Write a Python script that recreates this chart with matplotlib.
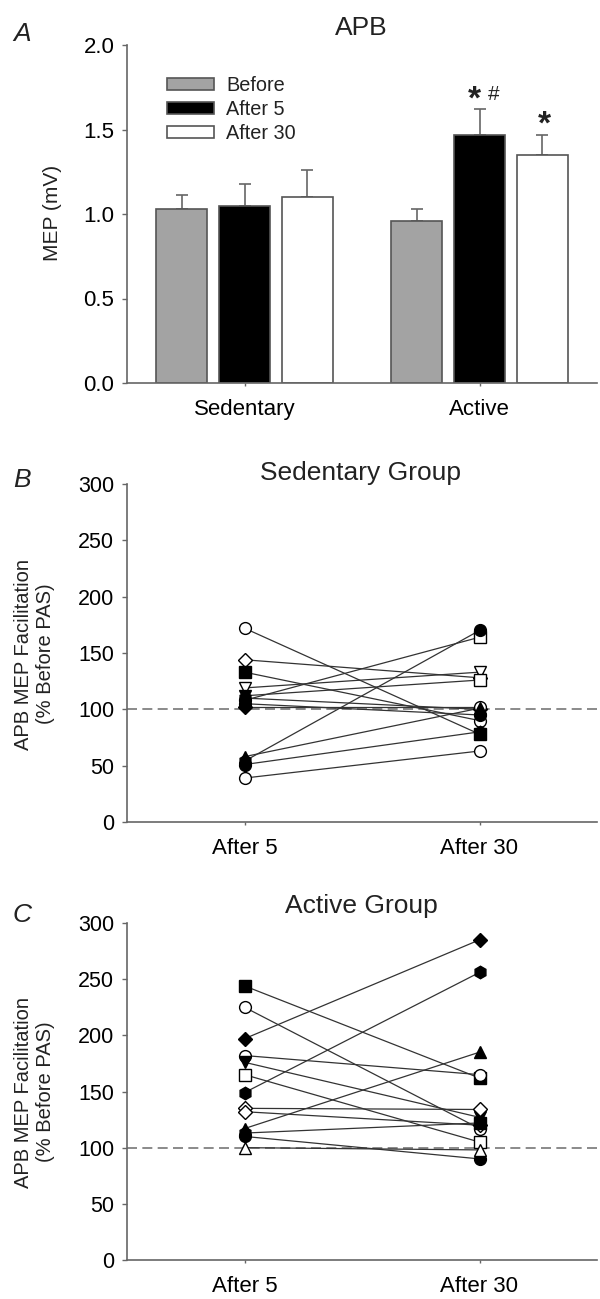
import numpy as np
import matplotlib.pyplot as plt

plt.rcParams['font.family'] = ['Liberation Sans', 'DejaVu Sans']
plt.rcParams['text.color'] = '#222222'

W, H = 600, 1299

# Panel A: mean MEP and SEM
groups = ['Sedentary', 'Active']
conditions = ['Before', 'After 5', 'After 30']
mep_sedentary = [1.03, 1.05, 1.10]
sem_sedentary = [0.08, 0.13, 0.16]
mep_active = [0.96, 1.47, 1.35]
sem_active = [0.07, 0.15, 0.12]
bar_colors = ['#a3a3a3', '#000000', '#ffffff']

# Panels B and C: individual facilitation (% before PAS)
time_labels = ['After 5', 'After 30']

sed_after5 = [172, 144, 133, 119, 112, 110, 108, 105, 102, 58, 54, 51, 39]
sed_after30 = [78, 128, 90, 133, 126, 100, 164, 95, 102, 101, 170, 80, 63]
sed_mark5 = ['o', 'D', 's', 'v', 'v', 'h', 'o', 'o', 'D', '^', 'h', 'o', 'o']
sed_fill5 = [0, 0, 1, 0, 1, 1, 1, 1, 1, 1, 1, 1, 0]
sed_mark30 = ['s', 'D', 'o', 'v', 's', 'D', 's', 'o', 'o', '^', 'o', 'h', 'o']
sed_fill30 = [1, 0, 0, 0, 0, 1, 0, 1, 0, 1, 1, 1, 0]

act_after5 = [244, 225, 197, 182, 176, 165, 149, 135, 132, 117, 113, 110, 100]
act_after30 = [162, 117, 285, 165, 127, 105, 256, 134, 120, 185, 122, 90, 98]
act_mark5 = ['s', 'o', 'D', 'o', 'v', 's', 'h', 'D', 'D', '^', 'h', 'o', '^']
act_fill5 = [1, 0, 1, 0, 1, 0, 1, 0, 0, 1, 1, 1, 0]
act_mark30 = ['s', 'o', 'D', 'o', 'v', 's', 'h', 'D', 'D', '^', 's', 'o', '^']
act_fill30 = [1, 0, 1, 0, 1, 0, 1, 0, 0, 1, 1, 1, 0]

msize = {'o': 8.5, 'D': 7, 's': 8, '^': 9, 'v': 9, 'h': 9}
axcol = '#666666'


def rect(top, bottom, left=127, right=597):
    return [left / W, 1 - bottom / H, (right - left) / W, (bottom - top) / H]


def style_axes(ax, ticksize):
    for s in ['top', 'right']:
        ax.spines[s].set_visible(False)
    for s in ['left', 'bottom']:
        ax.spines[s].set_color(axcol)
        ax.spines[s].set_linewidth(1.2)
    ax.tick_params(axis='y', direction='out', length=3.6, width=1.0,
                   color=axcol, pad=5.5, labelsize=ticksize)
    ax.tick_params(axis='x', direction='out', length=2.2, width=1.0,
                   color=axcol, pad=9.5, labelsize=16)
    ax.set_xlim(-0.5, 1.5)


def ftext(x, y, s, **kw):
    fig.text(x / W, 1 - y / H, s, **kw)


fig = plt.figure(figsize=(6, 12.99), dpi=100)

# ---- Panel A
axA = fig.add_axes(rect(45, 383))
style_axes(axA, 16)
x = np.arange(len(groups))
off = 0.267
width = 0.217
for i, cond in enumerate(conditions):
    means = [mep_sedentary[i], mep_active[i]]
    errs = [sem_sedentary[i], sem_active[i]]
    xi = x + (i - 1) * off
    axA.bar(xi, means, width, color=bar_colors[i], edgecolor='#555555',
            linewidth=1.2, label=cond, zorder=2)
    axA.errorbar(xi, means, yerr=[[0, 0], errs], fmt='none', ecolor=axcol,
                 elinewidth=1.2, capsize=4, capthick=1.2, zorder=1)
axA.set_ylim(0, 2.0)
axA.set_yticks([0.0, 0.5, 1.0, 1.5, 2.0])
axA.set_yticklabels(['0.0', '0.5', '1.0', '1.5', '2.0'])
axA.set_xticks(x)
axA.set_xticklabels(groups)
axA.legend(loc='upper left', bbox_to_anchor=(167 / W, 1 - 76 / H),
           bbox_transform=fig.transFigure, frameon=False, fontsize=14.3,
           handlelength=2.36, handleheight=0.6, handletextpad=0.62,
           labelspacing=0.25, borderpad=0, borderaxespad=0)

# significance marks
ftext(474, 109, '*', fontsize=24, fontweight='bold', ha='center', va='baseline')
ftext(494, 100, '#', fontsize=15, ha='center', va='baseline')
ftext(544, 134, '*', fontsize=24, fontweight='bold', ha='center', va='baseline')

ftext(361, 35, 'APB', fontsize=19, ha='center', va='baseline')
ftext(13, 41, 'A', fontsize=19, style='italic', ha='left', va='baseline')
ftext(53, 213, 'MEP (mV)', fontsize=15, rotation=90, ha='center', va='center')


def draw_pairs(ax, a5, a30, m5, f5, m30, f30):
    for v5, v30 in zip(a5, a30):
        ax.plot([0, 1], [v5, v30], color='#333333', lw=0.9, zorder=2)
    for v, m, f in zip(a5, m5, f5):
        ax.plot(0, v, marker=m, ms=msize[m], mfc='black' if f else 'white',
                mec='black', mew=1.0, zorder=3, clip_on=False)
    for v, m, f in zip(a30, m30, f30):
        ax.plot(1, v, marker=m, ms=msize[m], mfc='black' if f else 'white',
                mec='black', mew=1.0, zorder=3, clip_on=False)
    ax.axhline(100, color='#777777', lw=1.2, dashes=(6, 3.2), zorder=1)
    ax.set_ylim(0, 300)
    ax.set_yticks(range(0, 301, 50))
    ax.set_xticks([0, 1])
    ax.set_xticklabels(time_labels)


# ---- Panel B
axB = fig.add_axes(rect(484, 822))
style_axes(axB, 15.5)
draw_pairs(axB, sed_after5, sed_after30, sed_mark5, sed_fill5,
           sed_mark30, sed_fill30)
ftext(361, 480, 'Sedentary Group', fontsize=19, ha='center', va='baseline')
ftext(13, 487, 'B', fontsize=19, style='italic', ha='left', va='baseline')
ftext(35, 654, 'APB MEP Facilitation\n(% Before PAS)', fontsize=14.5,
      rotation=90, ha='center', va='center', linespacing=1.2)

# ---- Panel C
axC = fig.add_axes(rect(923, 1260))
style_axes(axC, 15.5)
draw_pairs(axC, act_after5, act_after30, act_mark5, act_fill5,
           act_mark30, act_fill30)
ftext(361, 913, 'Active Group', fontsize=19, ha='center', va='baseline')
ftext(13, 922, 'C', fontsize=19, style='italic', ha='left', va='baseline')
ftext(35, 1092, 'APB MEP Facilitation\n(% Before PAS)', fontsize=14.5,
      rotation=90, ha='center', va='center', linespacing=1.2)

fig.savefig('out.png', dpi=100)
